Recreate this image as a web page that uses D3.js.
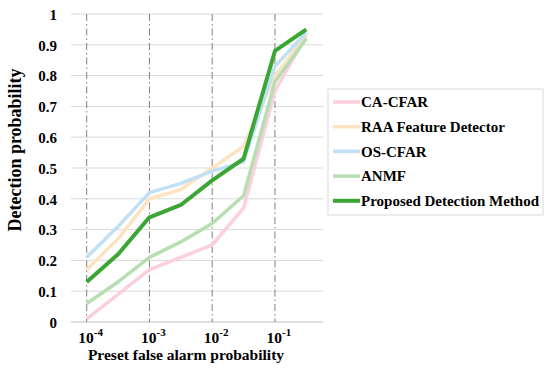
<!DOCTYPE html>
<html><head><meta charset="utf-8">
<script src="https://cdn.jsdelivr.net/npm/d3@7"></script>
<style>body{margin:0;background:#fff}svg{display:block}</style>
</head><body><svg id="c" width="550" height="371"></svg>
<script>
const categories = ["1e-4","3e-4","1e-3","3e-3","1e-2","3e-2","1e-1","3e-1"];
const decadeTicks = ["1e-4","1e-3","1e-2","1e-1"];
const decadeExp = ["-4","-3","-2","-1"];
const yTicks = [0,0.1,0.2,0.3,0.4,0.5,0.6,0.7,0.8,0.9,1];
const seriesNames = ["CA-CFAR","RAA Feature Detector","OS-CFAR","ANMF","Proposed Detection Method"];
const caCfar   = [0.01,0.09,0.17,0.21,0.25,0.37,0.75,0.93];
const raa      = [0.17,0.27,0.40,0.43,0.50,0.57,0.80,0.93];
const osCfar   = [0.21,0.31,0.42,0.45,0.49,0.52,0.83,0.94];
const anmf     = [0.06,0.13,0.21,0.26,0.32,0.41,0.78,0.92];
const proposed = [0.13,0.22,0.34,0.38,0.46,0.53,0.88,0.95];
const seriesValues = [caCfar, raa, osCfar, anmf, proposed];
const colors = ["#fbcfdd","#fde3c1","#bfe0f5","#b6deb1","#3ca635"];
const widths = [3.5,3.5,3.5,3.5,4];
const FONT = "'Liberation Serif', 'Times New Roman', serif";

const svg = d3.select("#c").attr("font-family",FONT).attr("font-weight","bold");
const pL = 71, pR = 322, pT = 14, pB = 322;
const x = d3.scalePoint().domain(categories).range([pL,pR]).padding(0.5);
const y = d3.scaleLinear().domain([0,1]).range([pB,pT]);

// horizontal grid
svg.append("g").selectAll("line").data(yTicks).join("line")
  .attr("x1",pL).attr("x2",pR+1).attr("y1",d=>y(d)).attr("y2",d=>y(d))
  .attr("stroke",d=>d===0?"#bfbfbf":"#d9d9d9").attr("stroke-width",1);
// vertical dashed lines
svg.append("g").selectAll("line").data(decadeTicks).join("line")
  .attr("x1",d=>x(d)).attr("x2",d=>x(d)).attr("y1",pT).attr("y2",pB)
  .attr("stroke","#7f7f7f").attr("stroke-width",1).attr("stroke-dasharray","7,3,1.5,3");

// y axis
const yAxis = d3.axisLeft(y).tickValues(yTicks).tickSize(0).tickPadding(0)
  .tickFormat(d=>d===0?"0":d===1?"1":d3.format(".1f")(d));
const yg = svg.append("g").attr("transform",`translate(${pL-14},0)`).call(yAxis);
yg.attr("font-family",FONT).attr("font-weight","bold");
yg.select(".domain").remove();
yg.selectAll("text").attr("font-size","15px").attr("fill","#000").attr("dy","0.35em");

// x axis
const xAxis = d3.axisBottom(x).tickValues(decadeTicks).tickSize(0).tickFormat("");
const xg = svg.append("g").attr("transform",`translate(0,${pB})`).call(xAxis);
xg.select(".domain").remove();
const xl = svg.append("g").selectAll("text").data(decadeTicks).join("text")
  .attr("x",d=>x(d)+4).attr("y",343).attr("text-anchor","middle").attr("font-size","15.5px");
xl.append("tspan").text("10");
xl.append("tspan").attr("dy","-7").attr("font-size","11px").text((d,i)=>decadeExp[i]);

// titles
svg.append("text").attr("x",186).attr("y",360).attr("text-anchor","middle").attr("font-size","15.5px").text("Preset false alarm probability");
svg.append("text").attr("transform","translate(21,150) rotate(-90)").attr("text-anchor","middle").attr("font-size","18px").text("Detection probability");

// lines
const line = d3.line().x((d,i)=>x(categories[i])).y(d=>y(d));
svg.append("g").selectAll("path").data(seriesValues).join("path")
  .attr("d",line).attr("fill","none").attr("stroke",(d,i)=>colors[i]).attr("stroke-width",(d,i)=>widths[i])
  .attr("stroke-linejoin","round");

// legend
const lg = svg.append("g");
lg.append("rect").attr("x",328).attr("y",89).attr("width",215).attr("height",126).attr("fill","#fff").attr("stroke","#d9d9d9");
const items = lg.selectAll("g").data(seriesNames).join("g").attr("transform",(d,i)=>`translate(0,${102+i*24.7})`);
items.append("line").attr("x1",333).attr("x2",360).attr("y1",0).attr("y2",0)
  .attr("stroke",(d,i)=>colors[i]).attr("stroke-width",(d,i)=>widths[i]);
items.append("text").attr("x",361).attr("y",0).attr("dy","0.35em").attr("font-size","15px").text(d=>d);
</script></body></html>
